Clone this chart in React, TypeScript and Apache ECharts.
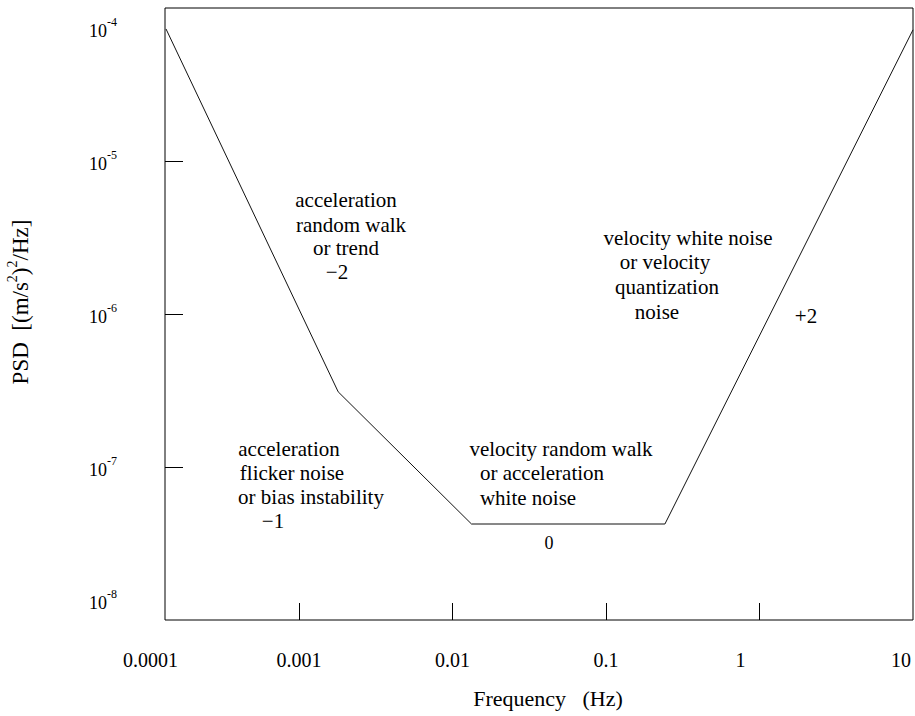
import React, { useEffect, useRef } from 'react';
import * as echarts from 'echarts';

// Piecewise PSD curve (log-log)
const frequencyHz = [1.36e-4, 1.8e-3, 1.33e-2, 0.242, 10];
const psdValues = [7.3e-5, 3.1e-7, 4.24e-8, 4.24e-8, 7.2e-5];

// Axis ticks (decades)
const xTickExponents = [-4, -3, -2, -1, 0, 1];
const xTickLabels = ['0.0001', '0.001', '0.01', '0.1', '1', '10'];
const yTickExponents = [-8, -7, -6, -5, -4];

// Annotation texts
const blockRandomWalkTrend = ['acceleration', 'random walk', 'or trend', '\u22122'];
const blockFlicker = ['acceleration', 'flicker noise', 'or bias instability', '\u22121'];
const blockVelocityRW = ['velocity random walk', 'or acceleration', 'white noise'];
const blockQuantization = ['velocity white noise', 'or velocity', 'quantization', 'noise'];
const slopeZero = '0';
const slopePlusTwo = '+2';

const xAxisTitle = 'Frequency   (Hz)';

export default function App() {
  const ref = useRef<HTMLDivElement>(null);

  useEffect(() => {
    if (!ref.current) return;
    const chart = echarts.init(ref.current, null, { renderer: 'svg' });
    const serif = 'Liberation Serif';

    const txt = (text: string, x: number, y: number, size = 21) => ({
      type: 'text',
      x,
      y,
      silent: true,
      style: {
        text,
        fill: '#000',
        fontSize: size,
        fontFamily: serif,
        textAlign: 'center',
        textVerticalAlign: 'middle',
        align: 'center',
        verticalAlign: 'middle',
      },
    });

    const posA = [[346, 200], [351, 225], [346, 248], [337, 272]];
    const posB = [[289, 449], [292, 473], [311, 497], [273, 521]];
    const posC = [[561, 449], [542, 473], [528, 498]];
    const posD = [[688, 238], [665, 262], [667, 287], [657, 312]];

    const graphics: any[] = [];
    blockRandomWalkTrend.forEach((t, i) => graphics.push(txt(t, posA[i][0], posA[i][1])));
    blockFlicker.forEach((t, i) => graphics.push(txt(t, posB[i][0], posB[i][1])));
    blockVelocityRW.forEach((t, i) => graphics.push(txt(t, posC[i][0], posC[i][1])));
    blockQuantization.forEach((t, i) => graphics.push(txt(t, posD[i][0], posD[i][1])));
    graphics.push(txt(slopeZero, 549, 543, 18));
    graphics.push(txt(slopePlusTwo, 806, 316));

    const lineData = frequencyHz.map((f, i) => [Math.log10(f), Math.log10(psdValues[i])]);

    const xStyleKeys = ['a', 'b', 'b', 'b', 'c', 'd'];
    const xLbl = { fontSize: 20, fontFamily: serif, color: '#000' };
    const yLbl = { fontSize: 18, fontFamily: serif, color: '#000' };

    chart.setOption({
      animation: false,
      backgroundColor: '#fff',
      textStyle: { fontFamily: serif },
      grid: [
        {
          left: 165, right: 2, top: 8, bottom: 96,
          show: true, borderColor: '#000', borderWidth: 1, backgroundColor: 'transparent',
          outerBoundsMode: 'none', containLabel: false,
        },
        {
          left: 145.5, right: 2, top: 8, bottom: 96,
          outerBoundsMode: 'none', containLabel: false,
        },
      ],
      xAxis: [
        {
          gridIndex: 0, type: 'value', min: 0, max: 1,
          axisLine: { show: false }, axisTick: { show: false }, axisLabel: { show: false },
          splitLine: { show: false },
          name: xAxisTitle, nameLocation: 'middle', nameGap: 67,
          nameTextStyle: { fontFamily: serif, fontSize: 22, color: '#000', padding: [0, 0, 0, 18] },
        },
        {
          gridIndex: 1, type: 'value', min: -4, max: 1, interval: 1,
          axisLine: { show: false },
          axisTick: {
            show: true, inside: true, length: 17,
            customValues: [-3, -2, -1, 0],
            lineStyle: { color: '#000', width: 1 },
          },
          axisLabel: {
            show: true, margin: 30, showMinLabel: true, showMaxLabel: true,
            ...xLbl,
            formatter: (v: number) => {
              const i = xTickExponents.indexOf(Math.round(v));
              if (i < 0) return '';
              return `{${xStyleKeys[i]}|${xTickLabels[i]}}`;
            },
            rich: {
              a: { ...xLbl, padding: [0, 0, 0, 10] },
              b: { ...xLbl },
              c: { ...xLbl, padding: [0, 38, 0, 0] },
              d: { ...xLbl, padding: [0, 24, 0, 0] },
            },
          },
          splitLine: { show: false },
        },
      ],
      yAxis: [
        {
          gridIndex: 0, type: 'value', min: -8, max: -4, interval: 1,
          axisLine: { show: false },
          axisTick: {
            show: true, inside: true, length: 18,
            customValues: [-7, -6, -5],
            lineStyle: { color: '#000', width: 1 },
          },
          axisLabel: {
            show: true, margin: 48, showMinLabel: true, showMaxLabel: true,
            ...yLbl,
            formatter: (v: number) => {
              const e = Math.round(v);
              if (yTickExponents.indexOf(e) < 0) return '';
              if (e === -4) return `{g| }\n{b|10}{s|${e}}`;
              if (e === -8) return `{b|10}{s|${e}}\n{g| }`;
              return `{b|10}{s|${e}}`;
            },
            rich: {
              b: { ...yLbl, lineHeight: 24, verticalAlign: 'bottom' },
              s: { fontSize: 12, fontFamily: serif, color: '#000', lineHeight: 15, verticalAlign: 'top' },
              g: { fontSize: 12, fontFamily: serif, lineHeight: 40 },
            },
          },
          splitLine: { show: false },
          name: '{n|PSD  [(m/s}{s|2}{n|)}{s|2}{n|/Hz]}',
          nameLocation: 'middle',
          nameGap: 133,
          nameTextStyle: {
            fontFamily: serif, fontSize: 23, color: '#000',
            padding: [0, 0, 0, 24],
            rich: {
              n: { fontFamily: serif, fontSize: 23, color: '#000', lineHeight: 27, verticalAlign: 'bottom' },
              s: { fontFamily: serif, fontSize: 14, color: '#000', lineHeight: 16, verticalAlign: 'top' },
            },
          },
        },
        {
          gridIndex: 1, type: 'value', min: -8, max: -4, show: false,
          splitLine: { show: false },
        },
      ],
      series: [
        {
          type: 'line',
          xAxisIndex: 1,
          yAxisIndex: 1,
          data: lineData,
          symbol: 'none',
          silent: true,
          lineStyle: { color: '#111', width: 1 },
        },
      ],
      graphic: graphics,
    });

    return () => chart.dispose();
  }, []);

  return (
    <div
      ref={ref}
      style={{ position: 'absolute', left: 0, top: 0, width: 915, height: 716, background: '#fff' }}
    />
  );
}
